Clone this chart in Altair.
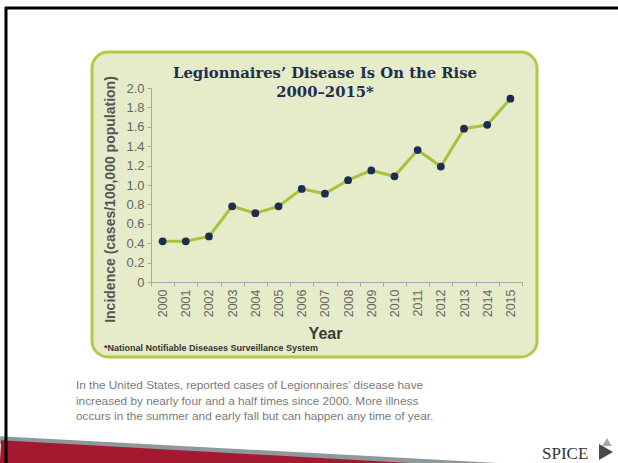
import altair as alt
import pandas as pd

# ---------------- data ----------------
years = [2000, 2001, 2002, 2003, 2004, 2005, 2006, 2007,
         2008, 2009, 2010, 2011, 2012, 2013, 2014, 2015]
incidence = [0.42, 0.42, 0.47, 0.78, 0.71, 0.78, 0.96, 0.91,
             1.05, 1.15, 1.09, 1.36, 1.19, 1.58, 1.62, 1.89]
y_ticks = [0, 0.2, 0.4, 0.6, 0.8, 1.0, 1.2, 1.4, 1.6, 1.8, 2.0]

title_lines = ["Legionnaires\u2019 Disease Is On the Rise", "2000\u20132015*"]
y_title = "Incidence (cases/100,000 population)"
x_title = "Year"
footnote = "*National Notifiable Diseases Surveillance System"
caption_lines = [
    "In the United States, reported cases of Legionnaires\u2019 disease have",
    "increased by nearly four and a half times since 2000. More illness",
    "occurs in the summer and early fall but can happen any time of year.",
]
logo_text = "SPICE"

# ---------------- layout ----------------
OX, OY = 151, 88          # plot origin in page pixels
W, H = 371, 194           # plot area


def px(x):
    return x - OX


def py(y):
    return y - OY


df = pd.DataFrame({"year": years, "incidence": incidence})
one = pd.DataFrame({"k": [0]})

# ---------------- decorations ----------------
box = alt.Chart(one).mark_rect(
    cornerRadius=16, fill="#e6ebc9", stroke="#b4c84a", strokeWidth=3
).encode(
    x=alt.value(px(92)), x2=alt.value(px(537)),
    y=alt.value(py(52)), y2=alt.value(py(357)),
)

gray_band = alt.Chart(one).mark_rule(strokeWidth=8, color="#8e989d", strokeCap="butt").encode(
    x=alt.value(px(0)), x2=alt.value(px(640)),
    y=alt.value(py(436.5 - 7 * 0.054 + 4)), y2=alt.value(py(436.5 + 633 * 0.054 + 4)),
)
red_band = alt.Chart(one).mark_rule(strokeWidth=40, color="#a51930", strokeCap="butt").encode(
    x=alt.value(px(0)), x2=alt.value(px(640)),
    y=alt.value(py(440.5 - 7 * 0.056 + 20)), y2=alt.value(py(440.5 + 633 * 0.056 + 20)),
)

border_top = alt.Chart(one).mark_rule(strokeWidth=3, color="#000000").encode(
    x=alt.value(px(5)), x2=alt.value(px(620)),
    y=alt.value(py(8)), y2=alt.value(py(8)),
)
border_left = alt.Chart(one).mark_rule(strokeWidth=3, color="#000000").encode(
    x=alt.value(px(6)), x2=alt.value(px(6)),
    y=alt.value(py(7)), y2=alt.value(py(470)),
)

# ---------------- data marks ----------------
x_enc = alt.X(
    "year:O",
    scale=alt.Scale(paddingInner=0, paddingOuter=0),
    axis=alt.Axis(
        title=x_title, labelAngle=270, labelFont="Liberation Sans", labelFontSize=12.5,
        labelColor="#666666", domainColor="#a8a8a8", tickColor="#a8a8a8", tickSize=4,
        tickBand="extent", labelPadding=3, titleFont="Liberation Sans", titleFontSize=16,
        titleFontWeight="bold", titleColor="#3a3a3a", titleX=174, titleY=51,
        titleBaseline="middle", titleAlign="center", zindex=1,
    ),
)
y_enc = alt.Y(
    "incidence:Q",
    scale=alt.Scale(domain=[0, 2.0], nice=False),
    axis=alt.Axis(
        title=y_title, values=y_ticks, grid=False,
        labelExpr="datum.value == 0 ? '0' : format(datum.value, '.1f')",
        labelFont="Liberation Sans", labelFontSize=13, labelColor="#666666",
        domainColor="#a8a8a8", tickColor="#a8a8a8", tickSize=4, labelPadding=3,
        titleFont="Liberation Sans", titleFontSize=14, titleFontWeight="bold",
        titleColor="#555555", titleAngle=270, titleX=px(110), titleY=111,
        titleBaseline="middle", titleAlign="center", zindex=1,
    ),
)

line = alt.Chart(df).mark_line(color="#a8c23c", strokeWidth=3).encode(x=x_enc, y=y_enc)
pts = alt.Chart(df).mark_circle(size=60, color="#1c2d52", opacity=1).encode(x=x_enc, y=y_enc)

# ---------------- texts ----------------
texts = []
for i, t in enumerate(title_lines):
    texts.append(
        alt.Chart(one).mark_text(
            font="DejaVu Serif", fontWeight="bold", fontSize=14.8, color="#1e2f50",
            align="center", baseline="middle",
        ).encode(x=alt.value(px(325)), y=alt.value(py(74 + i * 19)), text=alt.value(t))
    )

texts.append(
    alt.Chart(one).mark_text(
        font="Liberation Sans", fontWeight="bold", fontSize=9, color="#333333",
        align="left", baseline="middle",
    ).encode(x=alt.value(px(104)), y=alt.value(py(348)), text=alt.value(footnote))
)

for i, t in enumerate(caption_lines):
    texts.append(
        alt.Chart(one).mark_text(
            font="Liberation Sans", fontSize=11.8, color="#7a7a7a",
            align="left", baseline="middle",
        ).encode(x=alt.value(px(76)), y=alt.value(py(385 + i * 15.5)), text=alt.value(t))
    )

logo = alt.Chart(one).mark_text(
    font="Liberation Serif", fontSize=17, color="#333333", align="left", baseline="alphabetic",
).encode(x=alt.value(px(542)), y=alt.value(py(459)), text=alt.value(logo_text))
logo_mark1 = alt.Chart(one).mark_point(
    shape="triangle-right", filled=True, size=260, color="#4a4a4a", opacity=1
).encode(x=alt.value(px(606)), y=alt.value(py(452)))
logo_mark2 = alt.Chart(one).mark_point(
    shape="triangle-up", filled=True, size=90, color="#a8a8a8", opacity=1
).encode(x=alt.value(px(607)), y=alt.value(py(442)))

chart = alt.layer(
    box, gray_band, red_band, line, pts, *texts, logo, logo_mark2, logo_mark1,
    border_top, border_left,
).properties(
    width=W, height=H,
    padding={"left": OX, "top": OY, "right": 618 - OX - W, "bottom": 463 - OY - H},
    autosize=alt.AutoSizeParams(type="none"),
    background="white",
).configure_view(stroke=None)

chart.save("out.html", embed_options={"renderer": "svg", "actions": False})
